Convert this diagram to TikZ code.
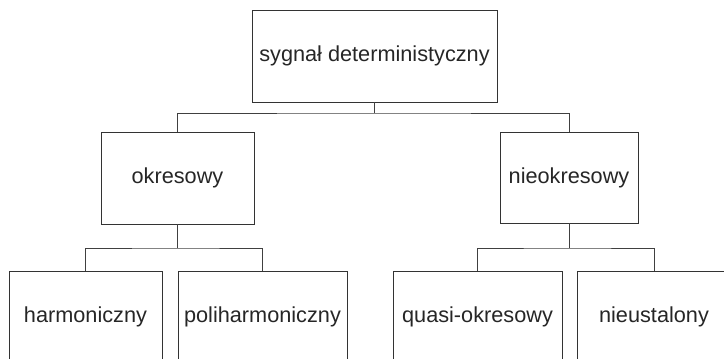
\documentclass[tikz,border=0pt]{standalone}
\usepackage{fontspec}
\setmainfont{Liberation Sans}
\begin{document}
\begin{tikzpicture}[x=1pt,y=-1pt,
  box/.style={draw=black!80, line width=0.9pt, inner sep=0pt, fill=none,
    font=\fontsize{21.7}{26}\selectfont, text=black!85},
  conn/.style={draw=black!75, line width=0.9pt}]
\useasboundingbox (0,0) rectangle (724,359);
\clip (0,0) rectangle (724,359);
\node[box, minimum width=245pt, minimum height=92pt] (top) at (374.5,56) {sygnał deterministyczny};
\node[box, minimum width=153pt, minimum height=92pt] (okr) at (177.5,178) {okresowy};
\node[box, minimum width=138pt, minimum height=91pt] (nie) at (569,177.5) {nieokresowy};
\node[box, minimum width=153pt, minimum height=92pt] (har) at (85.5,317) {harmoniczny};
\node[box, minimum width=169pt, minimum height=92pt] (pol) at (262.5,317) {poliharmoniczny};
\node[box, minimum width=169pt, minimum height=92pt] (qua) at (477.5,317) {quasi-okresowy};
\node[box, minimum width=154pt, minimum height=92pt] (nus) at (654,317) {nieustalony};
\coordinate (j1) at (374.5,113);
\coordinate (j2) at (177.5,248);
\coordinate (j3) at (569,248);
\draw[conn] (top.south) -- (j1);
\draw[conn] (okr.north) |- (j1) -| (nie.north);
\draw[conn] (okr.south) -- (j2);
\draw[conn] (har.north) |- (j2) -| (pol.north);
\draw[conn] (nie.south) -- (j3);
\draw[conn] (qua.north) |- (j3) -| (nus.north);
\end{tikzpicture}
\end{document}
